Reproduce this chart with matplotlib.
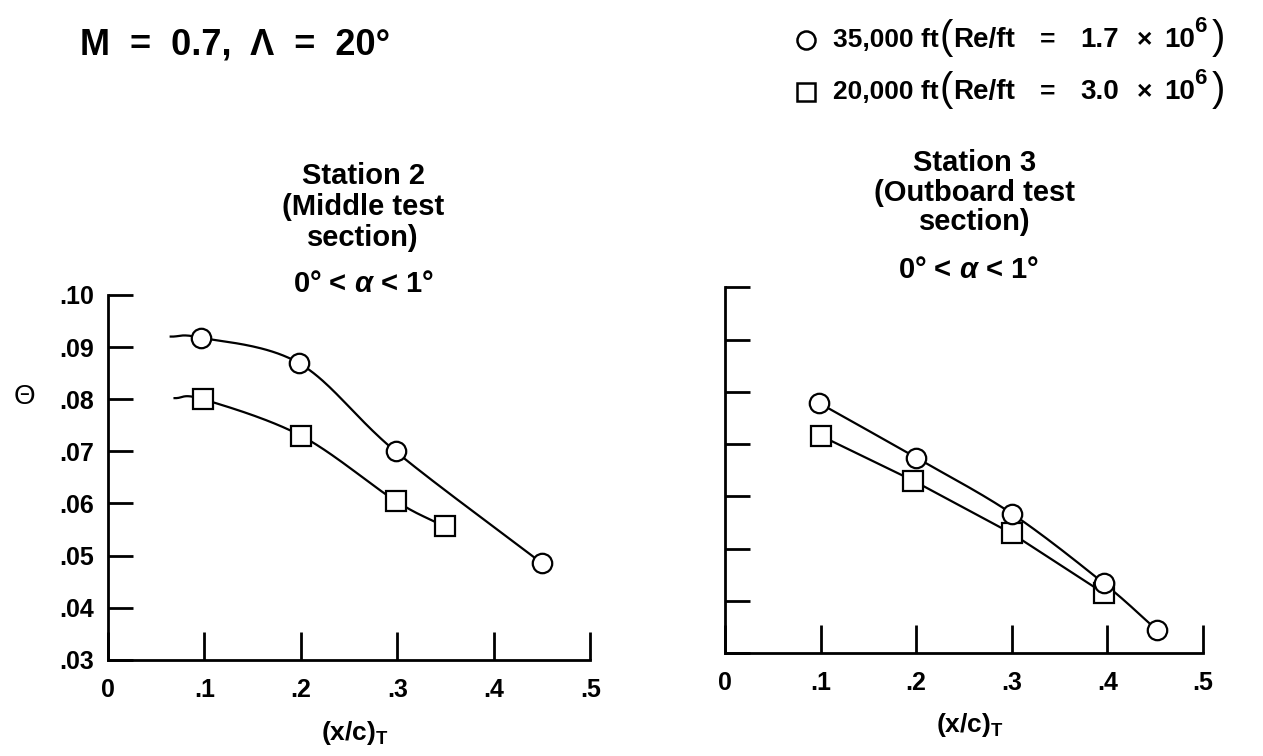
import numpy as np
import matplotlib
matplotlib.use("Agg")
import matplotlib.pyplot as plt
from matplotlib.lines import Line2D

plt.rcParams["font.family"] = ["Liberation Sans", "DejaVu Sans"]
plt.rcParams["font.weight"] = "bold"
plt.rcParams["mathtext.fontset"] = "custom"
plt.rcParams["mathtext.rm"] = "Liberation Sans:bold"
plt.rcParams["mathtext.bf"] = "Liberation Sans:bold"
plt.rcParams["mathtext.it"] = "Liberation Sans:bold:italic"

# Station 2 (middle test section)
st2_x_35k = [0.096, 0.198, 0.298, 0.450]
st2_theta_35k = [0.0918, 0.0869, 0.0700, 0.0485]
st2_x_20k = [0.098, 0.200, 0.298, 0.349]
st2_theta_20k = [0.0800, 0.0730, 0.0605, 0.0556]
# faired curves start a little ahead of the first point
st2_fair_start_35k = (0.065, 0.0920)
st2_fair_start_20k = (0.069, 0.0802)

# Station 3 (outboard test section)
st3_x_35k = [0.098, 0.200, 0.300, 0.396, 0.452]
st3_theta_35k = [0.0779, 0.0674, 0.0567, 0.0434, 0.0344]
st3_x_20k = [0.100, 0.197, 0.300, 0.396]
st3_theta_20k = [0.0716, 0.0630, 0.0529, 0.0415]

x_ticks = [0, 0.1, 0.2, 0.3, 0.4, 0.5]
x_tick_labels = ["0", ".1", ".2", ".3", ".4", ".5"]
y_ticks = [0.03, 0.04, 0.05, 0.06, 0.07, 0.08, 0.09, 0.10]
y_tick_labels = [".03", ".04", ".05", ".06", ".07", ".08", ".09", ".10"]

W, H = 1263, 756


def fx(px):
    return px / W


def fy(py):
    return 1 - py / H


def smooth(xs, ys, n=40):
    # Catmull-Rom curve through the points, for a faired line
    pts = np.column_stack([xs, ys])
    p = np.vstack([2 * pts[0] - pts[1], pts, 2 * pts[-1] - pts[-2]])
    out = []
    t = np.linspace(0, 1, n)[:, None]
    for i in range(1, len(p) - 2):
        p0, p1, p2, p3 = p[i - 1], p[i], p[i + 1], p[i + 2]
        seg = 0.5 * ((2 * p1) + (-p0 + p2) * t
                     + (2 * p0 - 5 * p1 + 4 * p2 - p3) * t ** 2
                     + (-p0 + 3 * p1 - 3 * p2 + p3) * t ** 3)
        out.append(seg)
    c = np.vstack(out)
    return c[:, 0], c[:, 1]


def style_axes(ax, show_ylabels):
    ax.set_xlim(0, 0.5)
    ax.set_ylim(0.03, 0.10)
    for s in ["top", "right"]:
        ax.spines[s].set_visible(False)
    for s in ["left", "bottom"]:
        ax.spines[s].set_linewidth(2.0)
    ax.set_xticks(x_ticks)
    ax.set_xticklabels(x_tick_labels)
    ax.set_yticks(y_ticks)
    if show_ylabels:
        ax.set_yticklabels(y_tick_labels)
    else:
        ax.set_yticklabels([])
    ax.tick_params(axis="x", direction="in", length=20, width=2.0, pad=13, labelsize=18)
    ax.tick_params(axis="y", direction="in", length=18, width=2.0, pad=10, labelsize=18)


mk = dict(markersize=14, markerfacecolor="white", markeredgecolor="black",
          markeredgewidth=1.6, linestyle="none", clip_on=False)

fig = plt.figure(figsize=(12.63, 7.56), dpi=100)
ax1 = fig.add_axes([0.0855, 0.127, 0.382, 0.483])
ax2 = fig.add_axes([0.574, 0.136, 0.3785, 0.484])

# left panel: faired curves
cx, cy = smooth([st2_fair_start_35k[0]] + st2_x_35k, [st2_fair_start_35k[1]] + st2_theta_35k)
ax1.plot(cx, cy, color="black", lw=1.6)
cx, cy = smooth([st2_fair_start_20k[0]] + st2_x_20k, [st2_fair_start_20k[1]] + st2_theta_20k)
ax1.plot(cx, cy, color="black", lw=1.6)
ax1.plot(st2_x_20k, st2_theta_20k, marker="s", zorder=5, **mk)
ax1.plot(st2_x_35k, st2_theta_35k, marker="o", zorder=6, **mk)
style_axes(ax1, True)

# right panel
cx, cy = smooth(st3_x_35k, st3_theta_35k)
ax2.plot(cx, cy, color="black", lw=1.6)
ax2.plot(st3_x_20k, st3_theta_20k, color="black", lw=1.6)
ax2.plot(st3_x_20k, st3_theta_20k, marker="s", zorder=5, **mk)
ax2.plot(st3_x_35k, st3_theta_35k, marker="o", zorder=6, **mk)
style_axes(ax2, False)

# axis labels
fig.text(fx(24), fy(397), "Θ", fontsize=20, fontweight="normal", ha="center", va="center")
fig.text(fx(355), fy(733), "(x/c)$_\\mathrm{T}$", fontsize=19, ha="center", va="center")
fig.text(fx(970), fy(725), "(x/c)$_\\mathrm{T}$", fontsize=19, ha="center", va="center")

# header
fig.text(fx(80), fy(45), "M  =  0.7,  Λ  =  20°", fontsize=26,
         ha="left", va="center")

# legend, built piece by piece
legend_rows = [("o", "35,000 ft", "1.7", 40), ("s", "20,000 ft", "3.0", 92)]
for marker, alt, re_val, y in legend_rows:
    fig.add_artist(Line2D([fx(806)], [fy(y)], marker=marker, markersize=13,
                          markerfacecolor="white", markeredgecolor="black",
                          markeredgewidth=1.8, transform=fig.transFigure))
    fig.text(fx(833), fy(y), alt, fontsize=19, ha="left", va="center")
    fig.text(fx(940), fy(y - 2), "(", fontsize=29, fontweight="normal", ha="left", va="center")
    fig.text(fx(953), fy(y), "Re/ft", fontsize=20, ha="left", va="center")
    fig.text(fx(1040), fy(y), "=", fontsize=19, ha="left", va="center")
    fig.text(fx(1080), fy(y), re_val, fontsize=20, ha="left", va="center")
    fig.text(fx(1137), fy(y), "×", fontsize=19, ha="left", va="center")
    fig.text(fx(1164), fy(y), "10", fontsize=20, ha="left", va="center")
    fig.text(fx(1194), fy(y - 13), "6", fontsize=16, ha="left", va="center")
    fig.text(fx(1212), fy(y - 2), ")", fontsize=29, fontweight="normal", ha="left", va="center")

# station headings
for txt, y in [("Station 2", 176), ("(Middle test", 207), ("section)", 238)]:
    fig.text(fx(363), fy(y), txt, fontsize=21, ha="center", va="center")
fig.text(fx(363), fy(284), "0° < $\\alpha$ < 1°", fontsize=21, ha="center", va="center")
for txt, y in [("Station 3", 163), ("(Outboard test", 193), ("section)", 222)]:
    fig.text(fx(975), fy(y), txt, fontsize=21, ha="center", va="center")
fig.text(fx(968), fy(270), "0° < $\\alpha$ < 1°", fontsize=21, ha="center", va="center")

fig.savefig("out.png", dpi=100, facecolor="white")
